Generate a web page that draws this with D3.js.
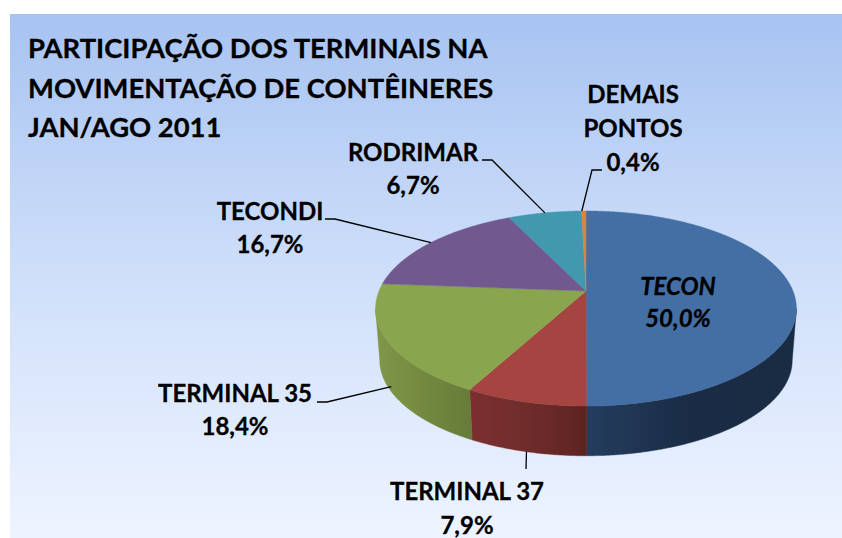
<!DOCTYPE html>
<html>
<head>
<meta charset="utf-8">
<script src="https://cdn.jsdelivr.net/npm/d3@7"></script>
<style>
  html, body { margin: 0; padding: 0; background: #fff; }
  svg { display: block; }
  text { font-family: Lato, "Open Sans", sans-serif; font-weight: 700; fill: #000; stroke: #000; stroke-width: 0.3; }
</style>
</head>
<body>
<div id="container"></div>
<script>
// data
let categories = ["TECON", "TERMINAL 37", "TERMINAL 35", "TECONDI", "RODRIMAR", "DEMAIS PONTOS"];
let shares = [50.0, 7.9, 18.4, 16.7, 6.7, 0.4];
let titleLines = ["PARTICIPAÇÃO DOS TERMINAIS NA", "MOVIMENTAÇÃO DE CONTÊINERES", "JAN/AGO 2011"];

// styles
let colors = ["#446fa5", "#a64442", "#89a54e", "#71588f", "#4198af", "#db843d"];
let sideColors = [
  ["#243d5f", "#1a2c45", "#1a2c44"],
  ["#7c302f", "#6e2c2b", "#5d2321"],
  ["#80974a", "#74893f", "#677b39"]
];

let w = 842;
let h = 538;

// pie geometry, the tilted disc is a perspective view of a circle
let cx = 586;
let topY = 291;
let bottomY = 343;
let radiusX = 207;
let radiusY = 94.4;
let shrink = 0.98;
let persp = 0.1795;

function project(angle, level) {
  let s = level === 0 ? 1 : shrink;
  let depth = 1 + persp * Math.cos(angle);
  return [
    cx + radiusX * s * Math.sin(angle) / depth,
    (level === 0 ? topY : bottomY) - radiusY * s * Math.cos(angle) / depth
  ];
}

// where the outline of the disc turns back, walls stop there
let wallStart = Math.acos(-persp);
let wallEnd = 2 * Math.PI - wallStart;

// where the labels go
let labelLayout = [
  { x: 678, ys: [295, 327], italic: true },
  { x: 467, ys: [500, 534], leader: [[526, 469]], level: 1 },
  { x: 235, ys: [402, 435], leader: [[327, 402], [317, 402]], level: 1, inset: -5 },
  { x: 270, ys: [220, 253], leader: [[335, 219], [325, 219]], level: 0 },
  { x: 413, ys: [161, 194], leader: [[492, 160], [482, 160]], level: 0 },
  { x: 633, ys: [103, 137, 171], leader: [[592, 170], [602, 170]], level: 0, nudge: -2 }
];
let titleX = 28;
let titleYs = [58, 98, 137];

let viz = d3.select("#container")
  .append("svg")
    .attr("width", w)
    .attr("height", h)
;

let defs = viz.append("defs");

let bgGrad = defs.append("linearGradient")
    .attr("id", "bg")
    .attr("x1", 0).attr("y1", 0).attr("x2", 0).attr("y2", 1);
bgGrad.append("stop").attr("offset", "0%").attr("stop-color", "#a7c3f1");
bgGrad.append("stop").attr("offset", "50%").attr("stop-color", "#cfdffa");
bgGrad.append("stop").attr("offset", "100%").attr("stop-color", "#eef4ff");

viz.append("rect")
    .attr("x", 10)
    .attr("y", 14)
    .attr("width", w - 10)
    .attr("height", h - 14)
    .attr("fill", "url(#bg)")
;

let pie = d3.pie().sort(null).value(function(d){ return d; }).startAngle(0).endAngle(2 * Math.PI);
let slices = pie(shares);

let decimal = d3.formatLocale({ decimal: ",", thousands: ".", grouping: [3], currency: ["R$", ""] }).format(".1f");

let lineMaker = d3.line();

function arcPoints(start, end, level) {
  let steps = Math.max(2, Math.ceil((end - start) / 0.01));
  let angle = d3.scaleLinear().domain([0, steps]).range([start, end]);
  return d3.range(steps + 1).map(function(i){ return project(angle(i), level); });
}

// side walls, only the three front slices show
let sideGroup = viz.append("g").attr("class", "sides");
sideColors.forEach(function(stops, i){
  let s = slices[i];
  let from = Math.max(s.startAngle, wallStart);
  let to = Math.min(s.endAngle, wallEnd);
  let topEdge = arcPoints(from, to, 0);
  let bottomEdge = arcPoints(from, to, 1).reverse();
  let xs = d3.extent(topEdge.concat(bottomEdge), function(p){ return p[0]; });

  let grad = defs.append("linearGradient")
      .attr("id", "side" + i)
      .attr("gradientUnits", "userSpaceOnUse")
      .attr("x1", xs[0]).attr("y1", 0).attr("x2", xs[1]).attr("y2", 0);
  stops.forEach(function(c, j){
    grad.append("stop").attr("offset", j / (stops.length - 1)).attr("stop-color", c);
  });

  sideGroup.append("path")
      .attr("d", lineMaker(topEdge.concat(bottomEdge)) + "Z")
      .attr("fill", "url(#side" + i + ")")
      .attr("stroke", "url(#side" + i + ")")
      .attr("stroke-width", 0.5)
  ;
});

// top of the pie
viz.append("g").attr("class", "slices")
  .selectAll("path").data(slices).enter()
  .append("path")
    .attr("d", function(d){
      let pts = arcPoints(d.startAngle, d.endAngle, 0);
      pts.unshift([cx, topY]);
      return lineMaker(pts) + "Z";
    })
    .attr("fill", function(d, i){ return colors[i]; })
    .attr("stroke", function(d, i){ return colors[i]; })
    .attr("stroke-width", 0.4)
;

// leader lines
viz.append("g").attr("class", "leaders")
  .selectAll("path").data(slices).enter()
  .filter(function(d, i){ return labelLayout[i].leader; })
  .append("path")
    .attr("d", function(d){
      let l = labelLayout[d.index];
      let mid = (d.startAngle + d.endAngle) / 2;
      let p = project(mid, l.level);
      if (l.inset) p = [p[0], p[1] + l.inset];
      if (l.nudge) p = [p[0] + l.nudge, p[1]];
      return lineMaker([p].concat(l.leader));
    })
    .attr("fill", "none")
    .attr("stroke", "#000")
    .attr("stroke-width", 1.3)
;

// labels
let labelGroup = viz.append("g").attr("class", "labels");
slices.forEach(function(d, i){
  let l = labelLayout[i];
  let rows = categories[i] === "DEMAIS PONTOS" ? categories[i].split(" ") : [categories[i]];
  rows = rows.concat(decimal(d.value) + "%");
  rows.forEach(function(row, j){
    labelGroup.append("text")
        .attr("x", l.x)
        .attr("y", l.ys[j])
        .attr("text-anchor", "middle")
        .attr("font-size", 24)
        .attr("font-style", l.italic ? "italic" : "normal")
        .text(row)
    ;
  });
});

// title
viz.append("g").attr("class", "title")
  .selectAll("text").data(titleLines).enter()
  .append("text")
    .attr("x", titleX)
    .attr("y", function(d, i){ return titleYs[i]; })
    .attr("font-size", 27.4)
    .text(function(d){ return d; })
;
</script>
</body>
</html>
